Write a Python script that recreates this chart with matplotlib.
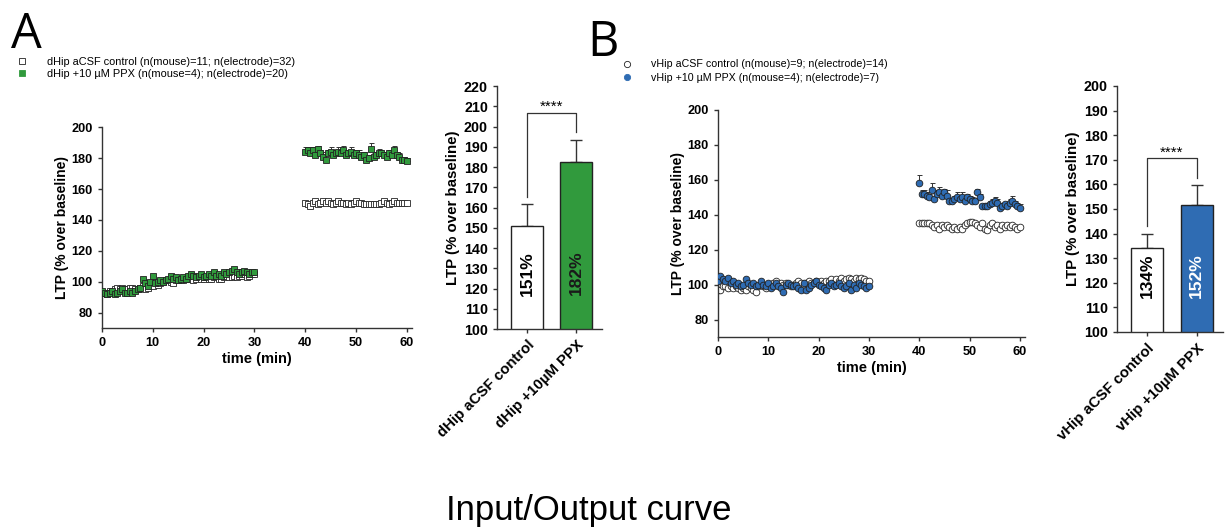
import numpy as np
import matplotlib
matplotlib.use('Agg')
import matplotlib.pyplot as plt
from matplotlib.lines import Line2D

plt.rcParams['font.family'] = ['Liberation Sans', 'DejaVu Sans']

# ==========================================
# DATA
# ==========================================
t_base = np.arange(0, 30.5, 0.5)   # 61 points, baseline
t_post = np.arange(40, 60.5, 0.5)  # 41 points, after induction

# --- panel A (dorsal) ---
dhip_ctrl_base = [93, 93, 92, 94, 94, 95, 96, 95, 96, 95,
                  95, 96, 96, 95, 95, 96, 97, 95, 96, 98,
                  97, 100, 98, 99, 100, 101, 101, 100, 99, 101,
                  102, 101, 101, 102, 103, 102, 101, 102, 103, 102,
                  102, 103, 102, 102, 103, 104, 102, 102, 103, 104,
                  103, 103, 104, 103, 104, 104, 105, 103, 104, 105,
                  105]
dhip_ppx_base = [94, 93, 92, 93, 94, 92, 93, 94, 95, 93,
                 93, 94, 93, 94, 95, 96, 102, 99, 97, 100,
                 104, 99, 100, 101, 100, 101, 102, 104, 102, 103,
                 101, 102, 103, 102, 104, 105, 104, 103, 104, 105,
                 103, 104, 105, 104, 106, 104, 105, 104, 106, 105,
                 106, 107, 108, 106, 105, 106, 107, 106, 105, 106,
                 106]
dhip_ctrl_post = [151, 150, 149, 151, 152, 150, 151, 152, 151, 152,
                  151, 150, 151, 152, 151, 151, 150, 151, 150, 151,
                  152, 151, 151, 150, 150, 150, 150, 150, 150, 150,
                  151, 152, 151, 150, 151, 152, 151, 151, 151, 151,
                  151]
dhip_ppx_post = [184, 185, 183, 185, 182, 186, 183, 181, 179, 183,
                 184, 182, 183, 184, 183, 185, 182, 183, 184, 182,
                 183, 182, 181, 182, 179, 180, 186, 181, 182, 183,
                 183, 182, 181, 183, 182, 185, 182, 181, 179, 179,
                 178]
dhip_ppx_post_sem = [3, 2, 3, 2, 3, 2, 2, 3, 3, 2,
                     3, 2, 2, 3, 2, 3, 2, 2, 3, 2,
                     2, 3, 2, 2, 2, 2, 4, 2, 2, 3,
                     2, 2, 2, 2, 3, 3, 2, 2, 2, 2,
                     2]

# --- panel B (ventral) ---
vhip_ctrl_base = [97, 97, 99, 99, 98, 99, 98, 99, 98, 97,
                  98, 97, 99, 98, 97, 96, 99, 100, 99, 98,
                  100, 99, 101, 102, 100, 101, 100, 101, 100, 99,
                  100, 101, 102, 101, 100, 101, 102, 101, 101, 102,
                  101, 102, 101, 102, 102, 103, 101, 103, 102, 104,
                  102, 103, 104, 103, 102, 104, 103, 104, 103, 102,
                  102]
vhip_ppx_base = [102, 105, 103, 102, 104, 101, 102, 100, 101, 99,
                 100, 103, 101, 100, 101, 99, 100, 102, 100, 99,
                 101, 98, 99, 101, 99, 98, 96, 100, 101, 100,
                 99, 100, 98, 97, 101, 97, 98, 100, 101, 102,
                 100, 99, 98, 97, 100, 101, 99, 100, 101, 99,
                 98, 99, 101, 97, 100, 98, 101, 100, 99, 98,
                 99]
vhip_ctrl_post = [135, 135, 135, 135, 135, 134, 133, 134, 132, 134,
                  133, 134, 133, 132, 133, 132, 133, 132, 134, 135,
                  136, 136, 135, 134, 133, 135, 132, 131, 134, 135,
                  133, 134, 132, 134, 133, 134, 133, 134, 133, 132,
                  133]
vhip_ppx_post = [158, 152, 152, 151, 150, 154, 149, 152, 153, 151,
                 153, 151, 148, 148, 149, 150, 149, 150, 148, 150,
                 149, 148, 148, 153, 150, 145, 145, 145, 146, 147,
                 148, 147, 144, 145, 146, 145, 147, 148, 146, 145,
                 144]
vhip_ppx_post_sem = [5, 2, 2, 2, 2, 4, 1, 2, 3, 2,
                     2, 3, 1, 1, 2, 3, 2, 3, 3, 2,
                     2, 2, 1, 2, 2, 1, 1, 1, 2, 2,
                     2, 2, 1, 2, 1, 2, 2, 3, 2, 2,
                     2]

# --- bar summaries ---
dhip_bar_names = ['dHip aCSF control', 'dHip +10µM PPX']
dhip_bar_means = [151, 182.5]
dhip_bar_sems = [10.5, 11]
vhip_bar_names = ['vHip aCSF control', 'vHip +10µM PPX']
vhip_bar_means = [134, 151.5]
vhip_bar_sems = [6, 8.2]

GREEN = '#319a3d'
BLUE = '#2f6cb3'

# ==========================================
# HELPERS
# ==========================================
def style_axes(ax):
    for s in ['top', 'right']:
        ax.spines[s].set_visible(False)
    for s in ['left', 'bottom']:
        ax.spines[s].set_linewidth(1.0)
        ax.spines[s].set_color('#333333')
    ax.tick_params(direction='out', length=3, width=1.0, colors='#333333',
                   labelcolor='black')


def time_course(ax, ctrl_b, ctrl_p, ppx_b, ppx_p, ppx_sem, marker, color):
    t_all = np.concatenate([t_base, t_post])
    ctrl = np.concatenate([ctrl_b, ctrl_p])
    ppx = np.concatenate([ppx_b, ppx_p])
    sem = np.concatenate([np.zeros(len(ppx_b)), ppx_sem])
    ax.errorbar(t_all, ppx, yerr=[np.zeros(len(sem)), sem], fmt='none',
                ecolor='#333333', elinewidth=0.7, capsize=1.8, capthick=0.7, zorder=1)
    ax.plot(t_all, ctrl, linestyle='none', marker=marker, ms=4.8, mfc='white',
            mec='#222222', mew=0.6, zorder=2)
    ax.plot(t_all, ppx, linestyle='none', marker=marker, ms=4.8, mfc=color,
            mec='#222222', mew=0.6, zorder=3)
    ax.set_xlim(0, 61)
    ax.set_ylim(70, 200)
    ax.set_xticks([0, 10, 20, 30, 40, 50, 60])
    ax.set_yticks([80, 100, 120, 140, 160, 180, 200])
    style_axes(ax)
    for lab in ax.get_xticklabels() + ax.get_yticklabels():
        lab.set_fontweight('bold')
        lab.set_fontsize(9.2)
    ax.set_xlabel('time (min)', fontsize=10.5, fontweight='bold', labelpad=2)
    ax.set_ylabel('LTP (% over baseline)', fontsize=10, fontweight='bold', labelpad=2)


def bar_panel(ax, names, means, sems, color, ylim, yticks, text_colors):
    x = np.arange(len(means))
    ax.bar(x, means, width=0.65, color=['white', color], edgecolor='#222222',
           linewidth=1.0, bottom=0, zorder=2)
    ax.errorbar(x, means, yerr=[np.zeros(len(sems)), sems], fmt='none',
                ecolor='#333333', elinewidth=1.0, capsize=4.5, capthick=1.0, zorder=1)
    ax.set_xlim(-0.61, 1.53)
    ax.set_ylim(*ylim)
    ax.set_yticks(yticks)
    ax.set_xticks(x)
    ax.set_xticklabels(names, rotation=45, ha='right', rotation_mode='anchor',
                       fontsize=10.8, fontweight='bold')
    style_axes(ax)
    for lab in ax.get_yticklabels():
        lab.set_fontweight('bold')
        lab.set_fontsize(10.3)
    ax.set_ylabel('LTP (% over baseline)', fontsize=10.8, fontweight='bold', labelpad=3)
    # labels inside bars
    span = ylim[1] - ylim[0]
    for xi, m, c in zip(x, means, text_colors):
        ax.text(xi, ylim[0] + 0.23 * span, f'{round(m)}%', rotation=90, ha='center',
                va='center', fontsize=12.5, fontweight='bold', color=c, zorder=3)
    # significance bracket
    tops = np.array(means) + np.array(sems)
    y_br = tops.max() + 0.11 * span
    ax.plot([0, 0, 1, 1], [tops[0] + 0.03 * span, y_br, y_br, tops[1] + 0.03 * span],
            color='#333333', lw=0.9, clip_on=False)
    ax.text(0.5, y_br - 0.005 * span, '****', ha='center', va='bottom', fontsize=11)


# ==========================================
# FIGURE
# ==========================================
fig = plt.figure(figsize=(12.26, 5.30), dpi=100)

axA = fig.add_axes([0.0832, 0.381, 0.2528, 0.379])
time_course(axA, dhip_ctrl_base, dhip_ctrl_post, dhip_ppx_base, dhip_ppx_post,
            dhip_ppx_post_sem, 's', GREEN)

axAb = fig.add_axes([0.4054, 0.3792, 0.0857, 0.4585])
bar_panel(axAb, dhip_bar_names, dhip_bar_means, dhip_bar_sems, GREEN,
          (100, 220), np.arange(100, 221, 10), ['black', '#1a1a1a'])

axB = fig.add_axes([0.5856, 0.3642, 0.2504, 0.4283])
time_course(axB, vhip_ctrl_base, vhip_ctrl_post, vhip_ppx_base, vhip_ppx_post,
            vhip_ppx_post_sem, 'o', BLUE)

axBb = fig.add_axes([0.9111, 0.3736, 0.0865, 0.4642])
bar_panel(axBb, vhip_bar_names, vhip_bar_means, vhip_bar_sems, BLUE,
          (100, 200), np.arange(100, 201, 10), ['black', 'white'])

# legends
hA = [Line2D([], [], ls='none', marker='s', ms=4.8, mfc='white', mec='#222222', mew=0.6),
      Line2D([], [], ls='none', marker='s', ms=4.8, mfc=GREEN, mec=GREEN, mew=0.6)]
fig.legend(hA, ['dHip aCSF control (n(mouse)=11; n(electrode)=32)',
                'dHip +10 µM PPX (n(mouse=4); n(electrode)=20)'],
           loc='upper left', bbox_to_anchor=(0.0135, 0.893), frameon=False,
           fontsize=7.9, handlelength=1.0, handletextpad=1.75, labelspacing=0.22,
           borderpad=0, borderaxespad=0)
hB = [Line2D([], [], ls='none', marker='o', ms=4.5, mfc='white', mec='#222222', mew=0.6),
      Line2D([], [], ls='none', marker='o', ms=4.5, mfc=BLUE, mec=BLUE, mew=0.6)]
fig.legend(hB, ['vHip aCSF control (n(mouse)=9; n(electrode)=14)',
                'vHip +10 µM PPX (n(mouse=4); n(electrode)=7)'],
           loc='upper left', bbox_to_anchor=(0.507, 0.888), frameon=False,
           fontsize=7.7, handlelength=1.0, handletextpad=1.75, labelspacing=0.3,
           borderpad=0, borderaxespad=0)

# panel letters
fig.text(0.009, 0.98, 'A', fontsize=35, va='top', ha='left',
         family=['Open Sans', 'DejaVu Sans'])
fig.text(0.479, 0.965, 'B', fontsize=35, va='top', ha='left',
         family=['Open Sans', 'DejaVu Sans'])

fig.text(0.48, 0.005, 'Input/Output curve', fontsize=25, ha='center', va='bottom',
         family=['Liberation Sans Narrow', 'Liberation Sans', 'DejaVu Sans'])

fig.savefig('out.png', dpi=100)
